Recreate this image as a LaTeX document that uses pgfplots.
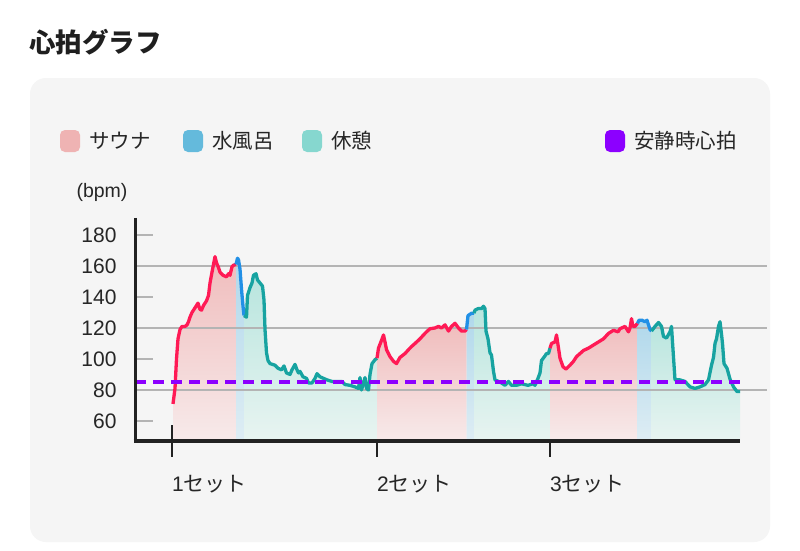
\documentclass[border=0pt]{standalone}
\usepackage{fontspec}
\setmainfont{Liberation Sans}
\newfontfamily\jp{Noto Sans CJK JP}
\usepackage{pgfplots}
\usepackage{pgfplotstable}
\pgfplotsset{compat=1.18}

\definecolor{saunaL}{HTML}{FF1A55}
\definecolor{coldL}{HTML}{2290E6}
\definecolor{restL}{HTML}{17A3A1}
\definecolor{saunaT}{RGB}{240,188,188}
\definecolor{saunaB}{RGB}{247,234,234}
\definecolor{coldT}{RGB}{176,216,235}
\definecolor{coldB}{RGB}{222,237,244}
\definecolor{restT}{RGB}{184,229,222}
\definecolor{restB}{RGB}{232,244,241}
\definecolor{sw1}{HTML}{EFB3B3}
\definecolor{sw2}{HTML}{64BADC}
\definecolor{sw3}{HTML}{86D7CF}
\definecolor{sw4}{HTML}{8C00FF}
\definecolor{cardbg}{HTML}{F5F5F5}
\definecolor{gridc}{HTML}{B4B4B4}
\definecolor{axisc}{HTML}{222222}

\pgfplotstableread{
x y
173 71
175 81
176.5 100
178 113
180 119
182 121
185 121
187 122
188.5 124
190 127
192 130
195 133
198 136
200 132
201.5 131.5
203.5 134.5
206.5 137.5
208.5 141
210 149
212 156
213.5 161
215 166
216.5 162
218.5 159
220 156
223 154
226.5 153
228.5 155
230 154
232 159.5
233.5 160.5
236 161
}\saunaA
\pgfplotstableread{
x y
236 161
237.5 165
238.5 164
240 158
241.5 145
243 134
244 128
}\coldA
\pgfplotstableread{
x y
244 128
246.5 127
247.5 141
250 146
252 149
253.5 154
256 155
257.5 151
260 149
262.5 147
264 138
265 119
266.5 104
268 99
270 97
275 96
278 94
281.5 93
284 95.5
286.5 91
290 90
292 93
295 96.5
297 93
298.5 91
300 92
303 88.5
306.5 87.5
308.5 84.5
312 84.5
315 87.5
317 90.5
320 88.5
323.5 87.5
327 86.5
332 85.5
337 85.5
342 85.5
345 83.5
350 83
355 82
358.5 81
360 88
361.5 80
365 88
366.5 81
368.5 80
370 90
372 97
375 99.5
377 100.5
}\restA
\pgfplotstableread{
x y
377 100.5
378.5 107
381.5 112
383.5 115.5
385 111
386.5 106
390 101.5
393.5 98.5
396.5 97
400 101
405 103.5
408.5 106
411.5 108
415 110
420 113
423.5 115.5
426.5 117.5
430 119.5
435 120
438.5 121
441.5 120
445 122
448.5 118
451.5 121
455 123
458.5 120
461.5 118
465 118
466.5 119
}\saunaB
\pgfplotstableread{
x y
466.5 119
468 128
471.5 129.5
474 129.5
}\coldB
\pgfplotstableread{
x y
474 129.5
475 131.5
478 132.5
481.5 132.5
483.5 134
485 132.5
486 118
488 113
490 104
491.5 102.5
493.5 92
495 86.5
498.5 85.5
501.5 84.5
505 83
508.5 85.5
511.5 83
516.5 83
521.5 84
528 83
533 84
535 83
538 87.5
540 91
541.5 99
545 102
546.5 103.5
548.5 103.5
550 107
}\restB
\pgfplotstableread{
x y
550 107
551.5 110
555 111
556.5 115.5
558.5 107
560 100.5
563 95
566 93.5
570 96
573.5 98.5
576.5 101.5
580 103.5
583.5 105.5
588.5 107
593.5 109
598.5 111
603.5 113
608.5 116.5
613.5 118.5
618 117.5
620 119.5
625 121
628.5 117.5
630 120
631.5 126
633 121
635 121
637.5 123
}\saunaC
\pgfplotstableread{
x y
637.5 123
639 125
642 125
645 124
647 125
648.5 122
650 119
651.5 118
}\coldC
\pgfplotstableread{
x y
651.5 118
655 121
658.5 123.5
661.5 121
663.5 114.5
666.5 113.5
670 117.5
671.5 121
673 106
675 86.5
680 86.5
685 85.5
690 82
695 81
700 82
705 83.5
708.5 86.5
711.5 96
713.5 101
715 110
716.5 113
718.5 121
720 124
721.5 116
722.5 110
724 97
727 94
730 87
733.5 82
737 79
740 79
}\restC

\begin{document}
\begin{tikzpicture}
\useasboundingbox (0,0) rectangle (800pt,-551pt);
\fill[white] (0,0) rectangle (800pt,-551pt);
\fill[cardbg, rounded corners=16pt] (30pt,-78pt) rectangle (770pt,-542pt);
\node[anchor=west, inner sep=0pt, font=\jp\bfseries\fontsize{26.5}{31}\selectfont, text=black!88] at (29pt,-42pt) {心拍グラフ};

% legend
\fill[sw1, rounded corners=5pt] (60pt,-130pt) rectangle (80pt,-152pt);
\node[anchor=west, inner sep=0pt, font=\jp\fontsize{20.5}{24}\selectfont, text=black!85] at (89pt,-141pt) {サウナ};
\fill[sw2, rounded corners=5pt] (183pt,-130pt) rectangle (203pt,-152pt);
\node[anchor=west, inner sep=0pt, font=\jp\fontsize{20.5}{24}\selectfont, text=black!85] at (212pt,-141pt) {水風呂};
\fill[sw3, rounded corners=5pt] (302pt,-130pt) rectangle (322pt,-152pt);
\node[anchor=west, inner sep=0pt, font=\jp\fontsize{20.5}{24}\selectfont, text=black!85] at (331pt,-141pt) {休憩};
\fill[sw4, rounded corners=5pt] (605pt,-130pt) rectangle (625pt,-152pt);
\node[anchor=west, inner sep=0pt, font=\jp\fontsize{20.5}{24}\selectfont, text=black!85] at (634pt,-141pt) {安静時心拍};

\node[font=\fontsize{19.5}{23}\selectfont, text=black!85] at (102pt,-192pt) {(bpm)};

\begin{axis}[
  at={(135pt,-440.5pt)}, anchor=south west,
  scale only axis, width=605pt, height=222.6pt,
  xmin=135, xmax=740, ymin=47.4, ymax=191,
  clip=false,
  axis lines=left,
  axis line style={draw=none},
  ytick={60,80,...,180},
  ytick align=inside,
  ytick style={draw=gridc, line width=1.8pt, /pgfplots/major tick length=18pt},
  yticklabel style={font=\fontsize{21}{25}\selectfont, text=black!85, xshift=-15pt},
  /pgf/number format/assume math mode=true,
  xtick={172,377,550},
  xticklabels={1{\jp セット},2{\jp セット},3{\jp セット}},
  xtick align=center,
  xtick style={draw=axisc, line width=2pt, /pgfplots/major tick length=32pt},
  xticklabel style={anchor=north west, inner xsep=0pt, font=\fontsize{21}{25}\selectfont, text=black!85, yshift=-29pt},
]
% fills
\addplot[draw=none, top color=saunaT, bottom color=saunaB] table {\saunaA} \closedcycle;
\addplot[draw=none, top color=coldT, bottom color=coldB] table {\coldA} \closedcycle;
\addplot[draw=none, top color=restT, bottom color=restB] table {\restA} \closedcycle;
\addplot[draw=none, top color=saunaT, bottom color=saunaB] table {\saunaB} \closedcycle;
\addplot[draw=none, top color=coldT, bottom color=coldB] table {\coldB} \closedcycle;
\addplot[draw=none, top color=restT, bottom color=restB] table {\restB} \closedcycle;
\addplot[draw=none, top color=saunaT, bottom color=saunaB] table {\saunaC} \closedcycle;
\addplot[draw=none, top color=coldT, bottom color=coldB] table {\coldC} \closedcycle;
\addplot[draw=none, top color=restT, bottom color=restB] table {\restC} \closedcycle;
% grid lines
\draw[gridc, line width=1.8pt] (axis cs:135,160) -- (axis cs:767,160);
\draw[gridc, line width=1.8pt] (axis cs:135,120) -- (axis cs:767,120);
\draw[gridc, line width=1.8pt] (axis cs:135,80) -- (axis cs:767,80);
% lines
\addplot[saunaL, line width=3.3pt, line join=round] table {\saunaA};
\addplot[coldL, line width=3.3pt, line join=round] table {\coldA};
\addplot[restL, line width=3.3pt, line join=round] table {\restA};
\addplot[saunaL, line width=3.3pt, line join=round] table {\saunaB};
\addplot[coldL, line width=3.3pt, line join=round] table {\coldB};
\addplot[restL, line width=3.3pt, line join=round] table {\restB};
\addplot[saunaL, line width=3.3pt, line join=round] table {\saunaC};
\addplot[coldL, line width=3.3pt, line join=round] table {\coldC};
\addplot[restL, line width=3.3pt, line join=round] table {\restC};
% resting HR
\addplot[sw4, line width=3.2pt, dash pattern=on 11pt off 7pt] coordinates {(135,85.2) (740,85.2)};
% axis lines
\draw[axisc, line width=3pt] (axis cs:135,191) -- (axis cs:135,47.4);
\draw[axisc, line width=4pt] (axis cs:133.5,47.4) -- (axis cs:740,47.4);
\end{axis}
\end{tikzpicture}
\end{document}
